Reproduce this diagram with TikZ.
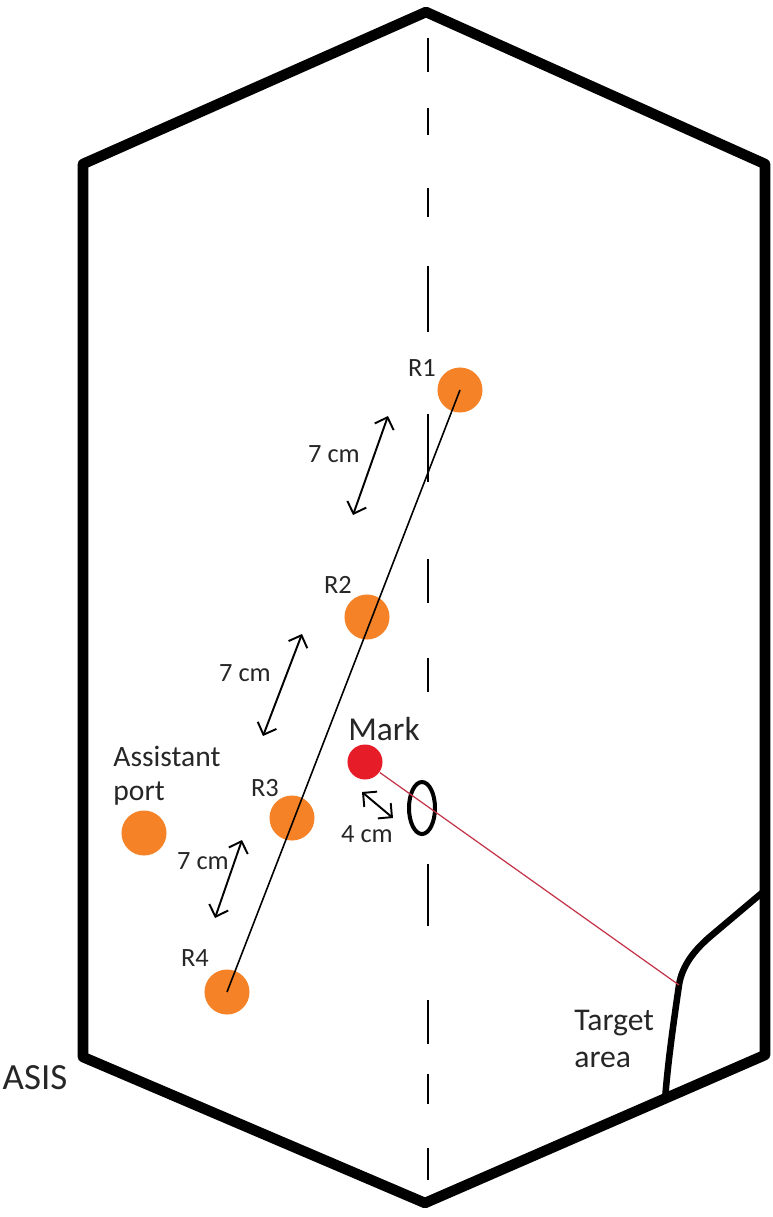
\documentclass[tikz,border=0pt]{standalone}
\usepackage{fontspec}
\setmainfont{Carlito}
\usepackage{tikz}
\usetikzlibrary {arrows.meta}
\definecolor{portorange}{RGB}{245,130,38}
\definecolor{markred}{RGB}{230,28,40}
\definecolor{beamred}{RGB}{196,52,72}

\begin{document}
\begin{tikzpicture}[x=0.01cm, y=-0.01cm,
    port/.style={circle, fill=portorange, inner sep=0pt, minimum size=0.45cm},
    markdot/.style={circle, fill=markred, inner sep=0pt, minimum size=0.35cm},
    lbl/.style={text=black!85, font=\fontsize{7.5}{9}\selectfont},
    dimarrow/.style={{Straight Barb[length=1mm,width=2mm]}-{Straight Barb[length=1mm,width=2mm]}, line width=0.55pt},
    wall/.style={line width=0.105cm, line join=round},
    axisline/.style={line width=0.6pt}]
    \useasboundingbox (0,0) rectangle (773,1217);

    %Outline
    \draw[wall] (83,164) -- (426,12) -- (765,164) -- (765,1055) -- (425,1203) -- (83,1057) -- cycle;
    \foreach \a/\b in {38/72, 108/135, 188/217, 266/332, 414/482, 559/603, 658/692, 864/926, 1000/1044, 1074/1104, 1148/1180}
        \draw[axisline] (428,\a) -- (428,\b);

    %Nodes
    \node[port] at (460,390) (r1) {};
    \node[port] at (367,617) (r2) {};
    \node[port] at (292,818) (r3) {};
    \node[port] at (227,992) (r4) {};
    \node[port] at (144,833) (ap) {};
    \node[markdot] at (365,762) (mk) {};
    \draw[line width=0.04cm] (422,808) ellipse (13 and 26);

    \node[lbl] at (422,368) (r1l) {R1};
    \node[lbl] at (338,585) (r2l) {R2};
    \node[lbl] at (265,788) (r3l) {R3};
    \node[lbl] at (195,958) (r4l) {R4};
    \node[lbl] at (334,454) (d1l) {7 cm};
    \node[lbl] at (245,673) (d2l) {7 cm};
    \node[lbl] at (203,861) (d3l) {7 cm};
    \node[lbl] at (367,834) (d4l) {4 cm};
    \node[lbl, font=\fontsize{9.5}{11}\selectfont] at (384,729) (mkl) {Mark};
    \node[lbl, font=\fontsize{8.4}{9.6}\selectfont, align=left, anchor=west] at (101,776) (apl) {Assistant\\port};
    \node[lbl, font=\fontsize{9}{10.4}\selectfont, align=left, anchor=west] at (562,1039) (tal) {Target\\area};
    \node[lbl, font=\fontsize{10.5}{12}\selectfont] at (35,1078) (asis) {ASIS};

    %Target area
    \coordinate (hit) at (679,985);
    \draw[line width=0.065cm, line cap=round] (763,892) -- (712,935) .. controls (694,950) and (682,966) .. (hit) .. controls (674,1020) and (668,1060) .. (665,1100);

    %Lines
    \coordinate (d1a) at (388,416);
    \coordinate (d1b) at (353,515);
    \coordinate (d2a) at (302,634);
    \coordinate (d2b) at (263,736);
    \coordinate (d3a) at (242,840);
    \coordinate (d3b) at (215,918);
    \coordinate (d4a) at (362,792);
    \coordinate (d4b) at (393,818);
    \draw[line width=0.45pt] (r1.center) -- (r4.center);
    \draw[dimarrow] (d1a) -- (d1b);
    \draw[dimarrow] (d2a) -- (d2b);
    \draw[dimarrow] (d3a) -- (d3b);
    \draw[dimarrow] (d4a) -- (d4b);
    \draw[beamred, line width=0.35pt] (mk) -- (hit);

\end{tikzpicture}
\end{document}
